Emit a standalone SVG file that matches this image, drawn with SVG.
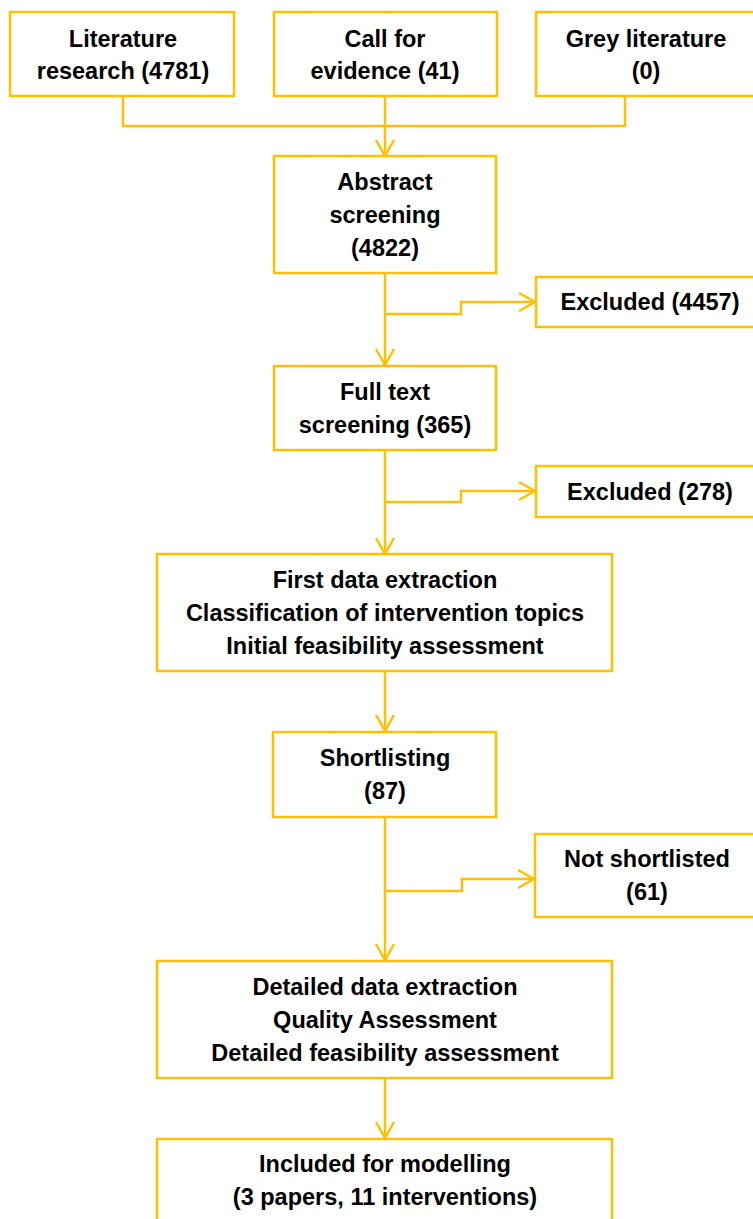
<svg xmlns="http://www.w3.org/2000/svg" width="753" height="1219" viewBox="0 0 753 1219">
<style>
.box{fill:#fff;stroke:#FFC000;stroke-width:2.5}
.t{font-family:"Liberation Sans",Arial,sans-serif;font-weight:bold;font-size:23.5px;fill:#000;text-anchor:middle}
.c{fill:none;stroke:#FFC000;stroke-width:2.5}
</style>
<defs>
<marker id="ah" markerUnits="userSpaceOnUse" markerWidth="20" markerHeight="22" refX="0" refY="0" viewBox="-18 -11 20 22" orient="auto" overflow="visible">
<path d="M-16,-9 L0,0 L-16,9" fill="none" stroke="#FFC000" stroke-width="2.5"/>
</marker>
</defs>
<rect width="753" height="1219" fill="#fff"/>
<g id="connectors">
<path class="c" d="M123,96 V126 H625 V96"/>
<path class="c" d="M385,96 V156" marker-end="url(#ah)"/>
<path class="c" d="M385,273 V365" marker-end="url(#ah)"/>
<path class="c" d="M385,314 H461 V302 H535" marker-end="url(#ah)"/>
<path class="c" d="M385,450 V554" marker-end="url(#ah)"/>
<path class="c" d="M385,502 H461 V491 H535" marker-end="url(#ah)"/>
<path class="c" d="M385,671 V731" marker-end="url(#ah)"/>
<path class="c" d="M385,817 V960" marker-end="url(#ah)"/>
<path class="c" d="M385,891 H462 V879 H534" marker-end="url(#ah)"/>
<path class="c" d="M385,1078 V1138" marker-end="url(#ah)"/>
</g>
<g id="literature">
<rect class="box" x="10" y="12" width="224" height="84"/>
<text class="t" x="123" y="46.5">Literature</text>
<text class="t" x="123" y="79">research (4781)</text>
</g>
<g id="call">
<rect class="box" x="274" y="12" width="223" height="84"/>
<text class="t" x="385" y="46.5">Call for</text>
<text class="t" x="385" y="79">evidence (41)</text>
</g>
<g id="grey">
<rect class="box" x="536" y="12" width="222" height="84"/>
<text class="t" x="646" y="46.5">Grey literature</text>
<text class="t" x="646" y="79">(0)</text>
</g>
<g id="abstract">
<rect class="box" x="274" y="156" width="222" height="117"/>
<text class="t" x="385" y="190">Abstract</text>
<text class="t" x="385" y="223">screening</text>
<text class="t" x="385" y="256">(4822)</text>
</g>
<g id="excluded1">
<rect class="box" x="536" y="277" width="228" height="50"/>
<text class="t" x="650" y="310">Excluded (4457)</text>
</g>
<g id="fulltext">
<rect class="box" x="274" y="366" width="222" height="84"/>
<text class="t" x="385" y="399.5">Full text</text>
<text class="t" x="385" y="432.5">screening (365)</text>
</g>
<g id="excluded2">
<rect class="box" x="536" y="466" width="228" height="51"/>
<text class="t" x="650" y="499.5">Excluded (278)</text>
</g>
<g id="firstdata">
<rect class="box" x="157" y="554" width="455" height="117"/>
<text class="t" x="385" y="588">First data extraction</text>
<text class="t" x="385" y="621">Classification of intervention topics</text>
<text class="t" x="385" y="654">Initial feasibility assessment</text>
</g>
<g id="shortlisting">
<rect class="box" x="273" y="732" width="223" height="85"/>
<text class="t" x="385" y="766">Shortlisting</text>
<text class="t" x="385" y="799">(87)</text>
</g>
<g id="notshortlisted">
<rect class="box" x="535" y="834" width="229" height="83"/>
<text class="t" x="647" y="867">Not shortlisted</text>
<text class="t" x="647" y="900">(61)</text>
</g>
<g id="detailed">
<rect class="box" x="157" y="961" width="455" height="117"/>
<text class="t" x="385" y="995">Detailed data extraction</text>
<text class="t" x="385" y="1028">Quality Assessment</text>
<text class="t" x="385" y="1061">Detailed feasibility assessment</text>
</g>
<g id="included">
<rect class="box" x="157" y="1139" width="455" height="100"/>
<text class="t" x="385" y="1172">Included for modelling</text>
<text class="t" x="385" y="1205">(3 papers, 11 interventions)</text>
</g>
</svg>
